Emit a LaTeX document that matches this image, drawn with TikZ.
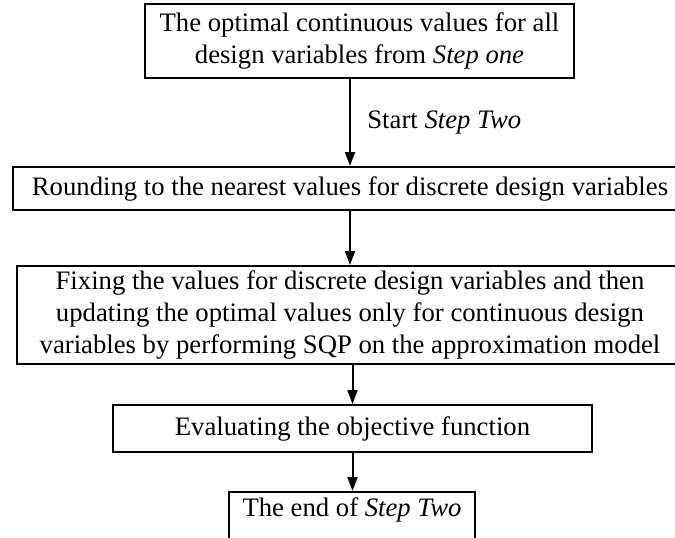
\documentclass[tikz,border=0pt]{standalone}
\usepackage{fontspec}
\setmainfont{Liberation Serif}
\usetikzlibrary{arrows.meta}
\tikzset{
  box/.style={draw, line width=1pt, align=center, inner sep=0pt,
              font=\fontsize{13.35pt}{16pt}\selectfont},
  flow/.style={line width=1pt, -{Triangle[length=7pt,width=5pt]}},
  note/.style={inner sep=0pt, font=\fontsize{13.35pt}{16pt}\selectfont}
}
\begin{document}
\begin{tikzpicture}[x=0.5pt,y=-0.5pt]
  \useasboundingbox (0,0) rectangle (675,537);
  \clip (0,0) rectangle (675,537);

  \node[box, minimum width=214.5pt, minimum height=37pt] (b1) at (359.5,41)
    {The optimal continuous values for all\\ design variables from \textit{Step one}};
  \node[box, minimum width=337pt, minimum height=21.5pt] (b2) at (350,188.5)
    {Rounding to the nearest values for discrete design variables};
  \node[box, minimum width=333pt, minimum height=49pt] (b3) at (350,315)
    {Fixing the values for discrete design variables and then\\
     updating the optimal values only for continuous design\\
     variables by performing SQP on the approximation model};
  \node[box, minimum width=239.5pt, minimum height=23.5pt] (b4) at (352.5,428.5)
    {Evaluating the objective function};
  \node[box, anchor=north, minimum width=123pt, text height=12pt, text depth=15pt] (b5) at (352,491)
    {The end of \textit{Step Two}};

  \node[note, anchor=base west] (lbl) at (367,128) {Start \textit{Step Two}};

  \draw[flow] (b1.south -| b2.north) -- (b2.north);
  \draw[flow] (b2.south) -- (b3.north);
  \draw[flow] (b3.south -| b4.north) -- (b4.north);
  \draw[flow] (b4.south) -- (b4.south |- b5.north);
\end{tikzpicture}
\end{document}
